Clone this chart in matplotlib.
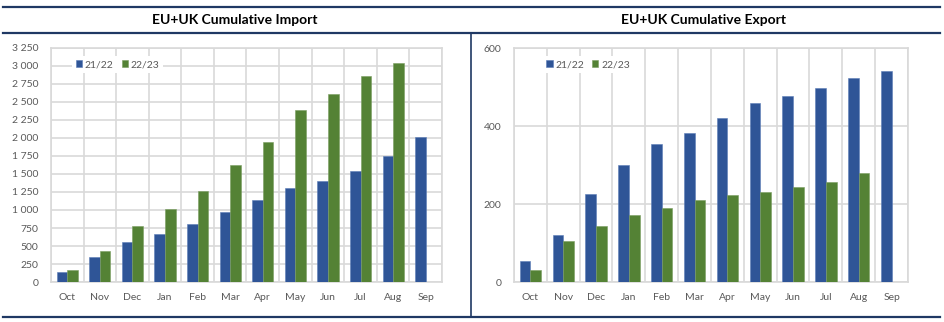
import matplotlib
matplotlib.use("Agg")
import matplotlib.pyplot as plt
import numpy as np
from matplotlib.ticker import FuncFormatter, MultipleLocator
from matplotlib.lines import Line2D

plt.rcParams['font.family'] = ['Lato', 'DejaVu Sans']

months = ["Oct", "Nov", "Dec", "Jan", "Feb", "Mar", "Apr", "May", "Jun", "Jul", "Aug", "Sep"]
series_names = ["21/22", "22/23"]

import_2122 = [145, 352, 556, 662, 810, 968, 1139, 1306, 1398, 1542, 1755, 2014]
import_2223 = [162, 426, 778, 1009, 1264, 1625, 1940, 2384, 2611, 2861, 3046, np.nan]

export_2122 = [53, 121, 226, 301, 355, 383, 420, 458, 478, 498, 522, 540]
export_2223 = [30, 104, 143, 173, 191, 209, 222, 230, 243, 256, 280, np.nan]

BLUE = "#2F5597"
GREEN = "#548235"
GRID = "#D9D9D9"
TXT = "#595959"
NAVY = "#1F3864"

fig = plt.figure(figsize=(9.45, 3.22), dpi=100)
W, H = 945, 322

def fx(px):
    return px / W

def fy(py):
    return 1 - py / H

def draw(ax, s1, s2, ymax, step, fmt, leg_x):
    x = np.arange(len(months))
    bw = 0.325
    ax.bar(x - bw / 2, s1, bw, color=BLUE, edgecolor="#5B7DB8", linewidth=0.4, label=series_names[0], zorder=3)
    ax.bar(x + bw / 2, s2, bw, color=GREEN, edgecolor="#7A9D60", linewidth=0.4, label=series_names[1], zorder=3)
    ax.set_xlim(-0.5, len(months) - 0.5)
    ax.set_ylim(0, ymax)
    ax.yaxis.set_major_locator(MultipleLocator(step))
    ax.yaxis.set_major_formatter(FuncFormatter(fmt))
    ax.set_xticks(x)
    ax.set_xticklabels(months)
    ax.set_xticks(np.arange(-0.5, len(months)), minor=True)
    ax.grid(True, axis='y', which='major', color=GRID, linewidth=1.2, zorder=0)
    ax.grid(True, axis='x', which='minor', color=GRID, linewidth=1.2, zorder=0)
    ax.grid(False, axis='x', which='major')
    ax.tick_params(axis='both', which='both', length=0, labelsize=7.5, labelcolor=TXT)
    ax.tick_params(axis='y', pad=9)
    ax.tick_params(axis='x', pad=8)
    for sp in ax.spines.values():
        sp.set_color(GRID)
        sp.set_linewidth(1.2)
    leg = ax.legend(loc='center', bbox_to_anchor=(leg_x, 0.929), ncol=2, frameon=True,
                    fancybox=False, framealpha=1, facecolor='white', edgecolor='none',
                    handlelength=0.6, handleheight=0.6, handletextpad=0.25, columnspacing=0.8,
                    borderpad=0.35, fontsize=7.5, labelcolor=TXT)
    leg.set_zorder(5)

def fmt_import(v, pos):
    return f"{int(v):,}".replace(",", " ")

def fmt_export(v, pos):
    return f"{int(v)}"

ax1 = fig.add_axes([fx(51), fy(282), fx(442 - 51), (282 - 48) / H])
draw(ax1, import_2122, import_2223, 3250, 250, fmt_import, 0.17)

ax2 = fig.add_axes([fx(514), fy(282), fx(908 - 514), (282 - 48) / H])
draw(ax2, export_2122, export_2223, 600, 200, fmt_export, 0.188)

fig.text(fx(235), fy(19.5), "EU+UK Cumulative Import", ha='center', va='center',
         fontsize=10, fontweight='bold', color='black')
fig.text(fx(704), fy(19.5), "EU+UK Cumulative Export", ha='center', va='center',
         fontsize=10, fontweight='bold', color='black')

for yy in (7, 32.5, 316.5):
    fig.add_artist(Line2D([fx(3), fx(940)], [fy(yy), fy(yy)], color=NAVY, linewidth=1.6))
fig.add_artist(Line2D([fx(471), fx(471)], [fy(32.5), fy(316.5)], color=NAVY, linewidth=1.2))

fig.savefig("out.png", dpi=100, facecolor='white')
